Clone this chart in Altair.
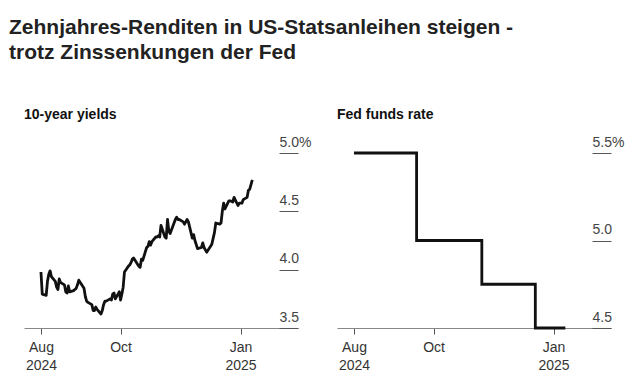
import altair as alt
import pandas as pd

# 10-year Treasury yields (%), business days
yield_dates = [
    "2024-08-01", "2024-08-02", "2024-08-05", "2024-08-06", "2024-08-07", "2024-08-08", "2024-08-09",
    "2024-08-12", "2024-08-13", "2024-08-14", "2024-08-15", "2024-08-16", "2024-08-19", "2024-08-20",
    "2024-08-21", "2024-08-22", "2024-08-23", "2024-08-26", "2024-08-27", "2024-08-28", "2024-08-29",
    "2024-08-30", "2024-09-03", "2024-09-04", "2024-09-05", "2024-09-06", "2024-09-09", "2024-09-10",
    "2024-09-11", "2024-09-12", "2024-09-13", "2024-09-16", "2024-09-17", "2024-09-18", "2024-09-19",
    "2024-09-20", "2024-09-23", "2024-09-24", "2024-09-25", "2024-09-26", "2024-09-27", "2024-09-30",
    "2024-10-01", "2024-10-02", "2024-10-03", "2024-10-04", "2024-10-07", "2024-10-08", "2024-10-09",
    "2024-10-10", "2024-10-11", "2024-10-15", "2024-10-16", "2024-10-17", "2024-10-18", "2024-10-21",
    "2024-10-22", "2024-10-23", "2024-10-24", "2024-10-25", "2024-10-28", "2024-10-29", "2024-10-30",
    "2024-10-31", "2024-11-01", "2024-11-04", "2024-11-05", "2024-11-06", "2024-11-07", "2024-11-08",
    "2024-11-12", "2024-11-13", "2024-11-14", "2024-11-15", "2024-11-18", "2024-11-19", "2024-11-20",
    "2024-11-21", "2024-11-22", "2024-11-25", "2024-11-26", "2024-11-27", "2024-11-29", "2024-12-02",
    "2024-12-03", "2024-12-04", "2024-12-05", "2024-12-06", "2024-12-09", "2024-12-10", "2024-12-11",
    "2024-12-12", "2024-12-13", "2024-12-16", "2024-12-17", "2024-12-18", "2024-12-19", "2024-12-20",
    "2024-12-23", "2024-12-24", "2024-12-26", "2024-12-27", "2024-12-30", "2024-12-31", "2025-01-02",
    "2025-01-03", "2025-01-06", "2025-01-07", "2025-01-08", "2025-01-10",
]
yield_values = [
    3.98, 3.79, 3.78, 3.90, 3.96, 3.99, 3.94,
    3.90, 3.85, 3.83, 3.92, 3.89, 3.87, 3.81,
    3.80, 3.86, 3.81, 3.82, 3.83, 3.84, 3.87,
    3.91, 3.84, 3.77, 3.73, 3.72, 3.70, 3.65,
    3.65, 3.68, 3.66, 3.62, 3.65, 3.70, 3.73,
    3.73, 3.75, 3.74, 3.79, 3.80, 3.75, 3.81,
    3.74, 3.79, 3.85, 3.98, 4.03, 4.04, 4.06,
    4.09, 4.10, 4.03, 4.02, 4.09, 4.08, 4.19,
    4.20, 4.24, 4.21, 4.24, 4.28, 4.28, 4.29,
    4.28, 4.38, 4.28, 4.27, 4.43, 4.33, 4.31,
    4.43, 4.45, 4.43, 4.43, 4.41, 4.39, 4.41,
    4.43, 4.41, 4.27, 4.30, 4.25, 4.18, 4.19,
    4.23, 4.19, 4.17, 4.15, 4.20, 4.22, 4.27,
    4.32, 4.40, 4.39, 4.40, 4.50, 4.57, 4.52,
    4.59, 4.59, 4.58, 4.62, 4.55, 4.57, 4.57,
    4.60, 4.62, 4.68, 4.69, 4.77,
]

# Fed funds target rate (upper bound, %)
fed_dates = ["2024-08-01", "2024-09-18", "2024-11-07", "2024-12-18", "2025-01-10"]
fed_values = [5.50, 5.00, 4.75, 4.50, 4.50]

yield_ticks = [3.5, 4.0, 4.5, 5.0]
fed_ticks = [4.5, 5.0, 5.5]
x_ticks = ["2024-08-01T00:00:00", "2024-10-01T00:00:00", "2025-01-01T00:00:00"]
x_domain = ["2024-07-19T00:00:00", "2025-02-14T00:00:00"]

yields = pd.DataFrame({"date": [d + "T00:00:00" for d in yield_dates], "value": yield_values})
fed = pd.DataFrame({"date": [d + "T00:00:00" for d in fed_dates], "value": fed_values})

FONT = "Liberation Sans"
W, H = 274, 175

x_enc = alt.X(
    "date:T",
    scale=alt.Scale(domain=x_domain),
    axis=alt.Axis(
        values=x_ticks,
        title=None,
        grid=False,
        domainColor="#888888",
        tickColor="#555555",
        tickSize=6,
        labelPadding=6,
        labelFontSize=14,
        labelColor="#333333",
        labelFont=FONT,
        labelLineHeight=18,
        labelExpr="month(datum.value) == 9 ? 'Oct' : [timeFormat(datum.value, '%b'), timeFormat(datum.value, '%Y')]",
    ),
)


def y_axis(ticks, top):
    return alt.Axis(
        values=ticks,
        orient="right",
        offset=-19,
        tickSize=19,
        tickColor="#555555",
        domain=False,
        grid=False,
        title=None,
        labelAlign="left",
        labelBaseline="alphabetic",
        labelPadding=-19,
        labelOffset=-7,
        labelFontSize=14,
        labelColor="#444444",
        labelFont=FONT,
        labelExpr=f"datum.value == {top} ? format(datum.value, '.1f') + '%' : format(datum.value, '.1f')",
    )


left = alt.Chart(yields).mark_line(color="#111111", strokeWidth=2.8, strokeJoin="round").encode(
    x=x_enc,
    y=alt.Y("value:Q", scale=alt.Scale(domain=[3.5, 5.0], nice=False, zero=False), axis=y_axis(yield_ticks, 5.0)),
).properties(
    width=W, height=H,
    title=alt.Title("10-year yields", anchor="start", fontSize=14, fontWeight="bold", font=FONT, color="#111111", offset=13),
)

right = alt.Chart(fed).mark_line(color="#111111", strokeWidth=2.8, interpolate="step-after").encode(
    x=x_enc,
    y=alt.Y("value:Q", scale=alt.Scale(domain=[4.5, 5.5], nice=False, zero=False), axis=y_axis(fed_ticks, 5.5)),
).properties(
    width=W, height=H,
    title=alt.Title("Fed funds rate", anchor="start", fontSize=14, fontWeight="bold", font=FONT, color="#111111", offset=13),
)

chart = alt.hconcat(left, right, spacing=39, bounds="flush").properties(
    title=alt.Title(
        ["Zehnjahres-Renditen in US-Statsanleihen steigen -", "trotz Zinssenkungen der Fed"],
        anchor="start", fontSize=21, fontWeight="bold", font=FONT, color="#222222",
        lineHeight=25, dx=-15, offset=45,
    ),
    padding={"left": 1, "top": 9, "right": 5, "bottom": 5},
    background="white",
).configure_view(stroke=None, strokeWidth=0)

chart.save("out.html", embed_options={"renderer": "svg", "actions": False})
